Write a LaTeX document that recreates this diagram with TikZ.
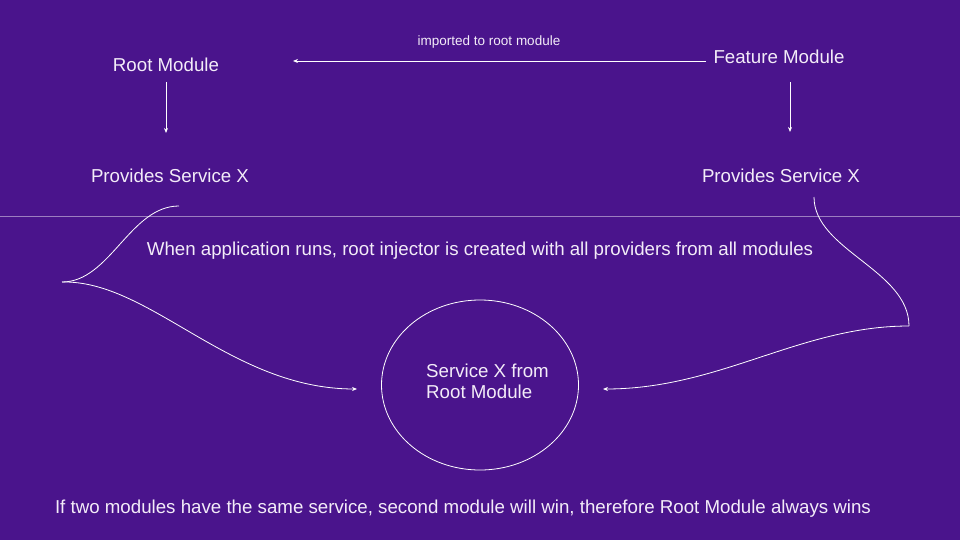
\documentclass[tikz,border=0pt]{standalone}
\usepackage{fontspec}
\setmainfont{Liberation Sans}
\usetikzlibrary{arrows.meta,shapes.geometric}
\definecolor{bgpurple}{HTML}{4A148C}
\definecolor{txtcol}{HTML}{F3ECF8}
\tikzset{
  lbl/.style={text=txtcol, font=\fontsize{18.7}{21}\selectfont, inner sep=0pt},
  smalllbl/.style={text=txtcol, font=\fontsize{13.5}{16}\selectfont, inner sep=0pt},
  conn/.style={draw=white, line width=0.8pt, -{Stealth[length=5pt,width=4pt]}},
  plain/.style={draw=white, line width=0.8pt},
}
\begin{document}
\begin{tikzpicture}[x=1pt,y=-1pt]
\fill[bgpurple] (0,0) rectangle (960,540);
\useasboundingbox (0,0) rectangle (960,540);
\draw[white!45!bgpurple, line width=0.6pt] (0,216) -- (960,216);

\node[lbl] (rootmod) at (166,64.5) {Root Module};
\node[lbl] (rootprov) at (170,175.5) {Provides Service X};
\node[lbl] (featmod) at (779,56.5) {Feature Module};
\node[lbl] (featprov) at (781,175.5) {Provides Service X};
\node[smalllbl] (imp) at (489,42) {imported to root module};
\node[lbl] (when) at (480,251) {When application runs, root injector is created with all providers from all modules};
\node[lbl] (bottom) at (463,508.5) {If two modules have the same service, second module will win, therefore Root Module always wins};
\node[draw=white, line width=0.8pt, ellipse, minimum width=197pt, minimum height=170pt] (circ) at (480,385) {};
\node[lbl, align=left, anchor=north west] (svc) at (426,364) {Service X from\\Root Module};

\coordinate (a1s) at (166,82);
\coordinate (a1e) at (166,133);
\coordinate (a2s) at (790,82);
\coordinate (a2e) at (790,132);
\coordinate (a3s) at (706,61);
\coordinate (a3e) at (293,61);
\draw[conn] (a1s) -- (a1e);
\draw[conn] (a2s) -- (a2e);
\draw[conn] (a3s) -- (a3e);

\coordinate (l0) at (179,206);
\coordinate (l1) at (62,282);
\coordinate (l2) at (357,389);
\draw[plain] (l0) .. controls (130,206) and (110,282) .. (l1);
\draw[conn] (l1) .. controls (150,280) and (230,389) .. (l2);

\coordinate (r0) at (814,197);
\coordinate (r1) at (909,326);
\coordinate (r2) at (603,389);
\draw[plain] (r0) .. controls (814,250) and (909,270) .. (r1);
\draw[conn] (r1) .. controls (800,326) and (720,389) .. (r2);
\end{tikzpicture}
\end{document}
